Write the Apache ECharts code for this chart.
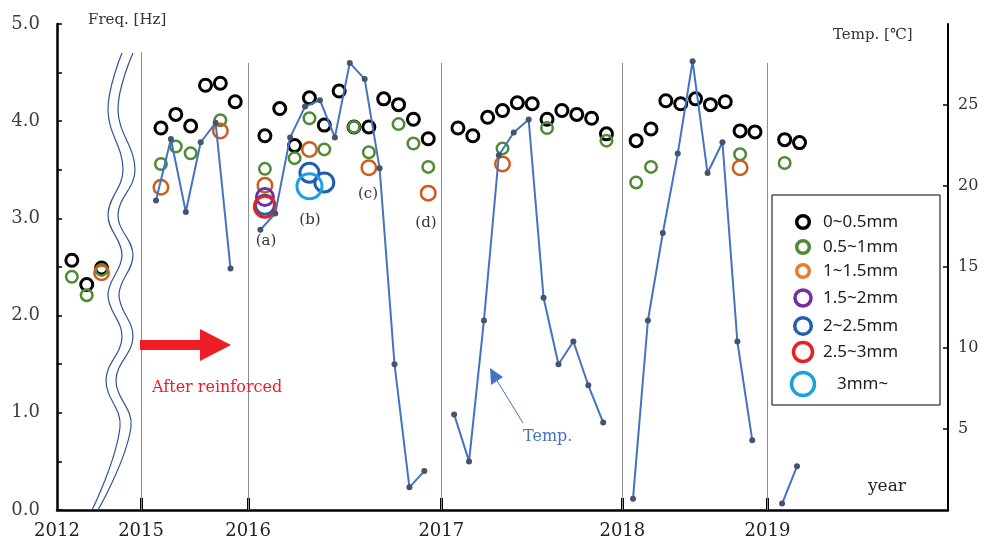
<!DOCTYPE html>
<html><head><meta charset="utf-8">
<script src="https://cdn.jsdelivr.net/npm/echarts@6/dist/echarts.min.js"></script>
<style>html,body{margin:0;padding:0;background:#fff}#c{width:985px;height:541px}</style>
</head><body><div id="c"></div>
<script>
// ---------- data ----------
const yearLabels = ['2012', '2015', '2016', '2017', '2018', '2019'];
const yearSlots = [0, 5.66, 12.87, 25.88, 38.07, 47.84];
const freqTicks = [0, 1, 2, 3, 4, 5];
const tempTicks = [5, 10, 15, 20, 25];
const sizeClasses = ['0~0.5mm', '0.5~1mm', '1~1.5mm', '1.5~2mm', '2~2.5mm', '2.5~3mm', '3mm~'];

const slots_0_05 = [1, 2, 3, 7, 8, 9, 10, 11, 12, 14, 15, 16, 17, 18, 19, 20, 21, 22, 23, 24, 25,
  27, 28, 29, 30, 31, 32, 33, 34, 35, 36, 37, 39, 40, 41, 42, 43, 44, 45, 46, 47, 49, 50];
const freq_0_05 = [2.57, 2.32, 2.49, 3.93, 4.07, 3.95, 4.37, 4.39, 4.20,
  3.85, 4.13, 3.75, 4.24, 3.96, 4.31, 3.94, 3.94, 4.23, 4.17, 4.02, 3.82,
  3.93, 3.85, 4.04, 4.11, 4.19, 4.18, 4.02, 4.11, 4.07, 4.03, 3.87,
  3.80, 3.92, 4.21, 4.18, 4.23, 4.17, 4.20, 3.90, 3.89, 3.81, 3.78];

const slots_05_1 = [1, 2, 3, 7, 8, 9, 11, 14, 16, 17, 18, 20, 21, 23, 24, 25, 30, 33, 37, 39, 40, 46, 49];
const freq_05_1 = [2.40, 2.21, 2.47, 3.56, 3.74, 3.67, 4.01, 3.51, 3.62, 4.03, 3.71, 3.94, 3.68, 3.97, 3.77, 3.53,
  3.72, 3.93, 3.80, 3.37, 3.53, 3.66, 3.57];

const slots_1_15 = [3, 7, 11, 14, 17, 21, 25, 30, 46];
const freq_1_15 = [2.44, 3.32, 3.90, 3.34, 3.71, 3.52, 3.26, 3.56, 3.52];

const slots_15_2 = [14];
const freq_15_2 = [3.22];

const slots_2_25 = [14, 17, 18];
const freq_2_25 = [3.14, 3.47, 3.37];

const slots_25_3 = [14];
const freq_25_3 = [3.12];

const slots_3 = [17];
const freq_3 = [3.33];

const tempSlots = [7, 8, 9, 10, 11, 12, 13,
  14, 15, 16, 17, 18, 19, 20, 21, 22, 23, 24, 25, 26,
  27, 28, 29, 30, 31, 32, 33, 34, 35, 36, 37, 38,
  39, 40, 41, 42, 43, 44, 45, 46, 47, 48,
  49, 50];
const tempC = [19.1, 22.9, 18.4, 22.7, 23.9, 14.9, null,
  17.3, 18.3, 23.0, 24.9, 25.3, 23.0, 27.6, 26.6, 21.1, 9.0, 1.4, 2.4, null,
  5.9, 3.0, 11.7, 21.9, 23.3, 24.1, 13.1, 9.0, 10.4, 7.7, 5.4, null,
  0.7, 11.7, 17.1, 22.0, 27.7, 20.8, 22.7, 10.4, 4.3, null,
  0.4, 2.7];

// ---------- styles ----------
const classSeries = [
  { slots: slots_0_05, freq: freq_0_05, color: '#000000', size: 12, bw: 3 },
  { slots: slots_05_1, freq: freq_05_1, color: '#4f8a35', size: 11.5, bw: 2.5 },
  { slots: slots_1_15, freq: freq_1_15, color: '#cc5c1f', size: 14.5, bw: 2.5 },
  { slots: slots_15_2, freq: freq_15_2, color: '#7030a0', size: 17, bw: 3 },
  { slots: slots_2_25, freq: freq_2_25, color: '#1f5fae', size: 19, bw: 3 },
  { slots: slots_25_3, freq: freq_25_3, color: '#e8201f', size: 21, bw: 3 },
  { slots: slots_3, freq: freq_3, color: '#1ea0e0', size: 25, bw: 3 }
];
const legendColors = ['#000000', '#4f8a35', '#e97c30', '#7030a0', '#1f5fae', '#e8201f', '#1ea0e0'];
const legendR = [6.3, 6.3, 6.3, 8, 8.3, 9.5, 11.5];
const legendY = [222, 247, 271, 298, 326, 352, 384];

const serif = 'DejaVu Serif, Noto Serif CJK JP, Noto Sans CJK JP, serif';

const series = [];
// year divider lines
series.push({
  type: 'line', xAxisIndex: 0, yAxisIndex: 0, data: [], z: 1, silent: true,
  markLine: {
    silent: true, symbol: ['none', 'none'], animation: false,
    label: { show: false },
    lineStyle: { color: '#8c8c8c', width: 1, type: 'solid' },
    emphasis: { disabled: true },
    data: yearSlots.slice(1).map((x, i) => [{ coord: [x, 0] }, { coord: [x, i === 0 ? 4.71 : 4.60] }])
  }
});
classSeries.forEach((c, k) => {
  series.push({
    name: sizeClasses[k], type: 'scatter', xAxisIndex: 0, yAxisIndex: 0, z: 3 + k,
    symbol: 'circle', symbolSize: c.size,
    itemStyle: { color: 'rgba(0,0,0,0)', borderColor: c.color, borderWidth: c.bw, opacity: 1 },
    emphasis: { disabled: true },
    data: c.slots.map((s, i) => [s, c.freq[i]])
  });
});
series.push({
  name: 'Temp.', type: 'line', xAxisIndex: 1, yAxisIndex: 1, z: 20,
  symbol: 'circle', symbolSize: 6, showSymbol: true, connectNulls: false,
  lineStyle: { color: '#4472c4', width: 2 },
  itemStyle: { color: '#44546a' },
  emphasis: { disabled: true },
  data: tempSlots.map((s, i) => [s, tempC[i] === null ? '-' : tempC[i]])
});

// ---------- graphics ----------
const graphic = [
  { type: 'polyline', z: 10, silent: true,
    shape: { points: [[122, 53], [108, 110], [123, 170], [108, 215], [122, 255], [108, 295], [122, 337], [106, 380], [120, 427], [92, 510]], smooth: 0.4 },
    style: { stroke: '#2f5597', lineWidth: 1.2, fill: null } },
  { type: 'polyline', z: 10, silent: true,
    shape: { points: [[133, 53], [118, 110], [135, 170], [118, 215], [133, 255], [119, 295], [133, 337], [116, 380], [131, 427], [98, 510]], smooth: 0.4 },
    style: { stroke: '#2f5597', lineWidth: 1.2, fill: null } },
  { type: 'polygon', z: 10, silent: true,
    shape: { points: [[140, 340], [200, 340], [200, 329], [231, 345], [200, 361], [200, 350], [140, 350]] },
    style: { fill: '#ee1c24' } },
  { type: 'text', z: 10, x: 152, y: 388, style: { text: 'After reinforced', font: '16px ' + serif, fill: '#ee1c24', verticalAlign: 'middle' } },
  { type: 'text', z: 10, x: 88, y: 20, style: { text: 'Freq. [Hz]', font: '15px ' + serif, fill: '#333', verticalAlign: 'middle' } },
  { type: 'text', z: 10, x: 833, y: 35, style: { text: 'Temp. [℃]', font: '15px ' + serif, fill: '#333', verticalAlign: 'middle' } },
  { type: 'text', z: 10, x: 868, y: 487, style: { text: 'year', font: '17px ' + serif, fill: '#222', verticalAlign: 'middle' } },
  { type: 'text', z: 10, x: 266, y: 241, style: { text: '(a)', font: '15px ' + serif, fill: '#333', align: 'center', verticalAlign: 'middle' } },
  { type: 'text', z: 10, x: 310, y: 220, style: { text: '(b)', font: '15px ' + serif, fill: '#333', align: 'center', verticalAlign: 'middle' } },
  { type: 'text', z: 10, x: 368, y: 194, style: { text: '(c)', font: '15px ' + serif, fill: '#333', align: 'center', verticalAlign: 'middle' } },
  { type: 'text', z: 10, x: 426, y: 223, style: { text: '(d)', font: '15px ' + serif, fill: '#333', align: 'center', verticalAlign: 'middle' } },
  { type: 'line', z: 10, silent: true, shape: { x1: 523, y1: 423, x2: 496, y2: 379 }, style: { stroke: '#4472c4', lineWidth: 1 } },
  { type: 'polygon', z: 10, silent: true, shape: { points: [[490, 368], [491, 385], [503, 377]] }, style: { fill: '#4472c4' } },
  { type: 'text', z: 10, x: 523, y: 437, style: { text: 'Temp.', font: '16px ' + serif, fill: '#4472c4', verticalAlign: 'middle' } },
  { type: 'rect', z: 30, silent: true, shape: { x: 772, y: 195, width: 168, height: 210 }, style: { fill: '#fff', stroke: '#000', lineWidth: 1 } }
];
sizeClasses.forEach((name, i) => {
  graphic.push({ type: 'circle', z: 31, silent: true, shape: { cx: 803, cy: legendY[i], r: legendR[i] },
    style: { fill: null, stroke: legendColors[i], lineWidth: 3.5 } });
  graphic.push({ type: 'text', z: 31, x: i === 6 ? 837 : 823, y: legendY[i],
    style: { text: name, font: '17px Noto Sans, DejaVu Sans, sans-serif', fill: '#222', verticalAlign: 'middle' } });
});

const chart = echarts.init(document.getElementById('c'), null, { renderer: 'canvas' });
chart.setOption({
  animation: false,
  backgroundColor: '#fff',
  grid: { left: 57, right: 37, top: 24, bottom: 31, containLabel: false, outerBoundsMode: 'none' },
  xAxis: [
    { type: 'value', min: 0, max: 60, position: 'bottom',
      axisLine: { show: true, onZero: false, lineStyle: { color: '#000', width: 2.5 } },
      axisTick: { show: true, inside: true, length: 12, customValues: yearSlots.slice(1), lineStyle: { color: '#000', width: 3 } },
      axisLabel: { show: true, customValues: yearSlots, margin: 12, fontSize: 18, fontFamily: serif, color: '#222',
        formatter: v => { const i = yearSlots.indexOf(v); return i >= 0 ? yearLabels[i] : ''; } },
      splitLine: { show: false } },
    { type: 'value', min: 0.36, max: 60.13, show: false, splitLine: { show: false } }
  ],
  yAxis: [
    { type: 'value', min: 0, max: 5, position: 'left',
      axisLine: { show: true, onZero: false, lineStyle: { color: '#000', width: 2.5 } },
      axisTick: { show: true, inside: true, length: 5, customValues: [0, 0.5, 1, 1.5, 2, 2.5, 3, 3.5, 4, 4.5, 5], lineStyle: { color: '#000', width: 1.5 } },
      axisLabel: { show: true, customValues: freqTicks, margin: 17, fontSize: 18, fontFamily: serif, color: '#404040',
        formatter: v => v.toFixed(1) },
      splitLine: { show: false } },
    { type: 'value', min: 0, max: 30, position: 'right',
      axisLine: { show: true, onZero: false, lineStyle: { color: '#000', width: 2 } },
      axisTick: { show: true, inside: true, length: 5, customValues: tempTicks, lineStyle: { color: '#000', width: 1.5 } },
      axisLabel: { show: true, customValues: tempTicks, margin: 10, fontSize: 16, fontFamily: serif, color: '#333' },
      splitLine: { show: false } }
  ],
  series: series,
  graphic: graphic
});
</script></body></html>
